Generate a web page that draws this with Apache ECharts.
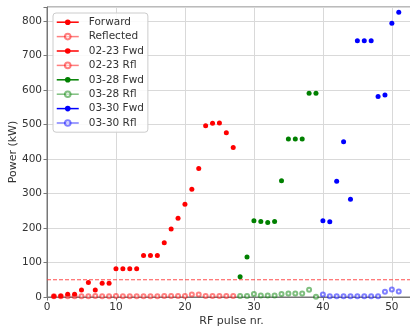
<!DOCTYPE html>
<html>
<head>
<meta charset="utf-8">
<script src="https://cdn.jsdelivr.net/npm/echarts@6/dist/echarts.min.js"></script>
<style>
html,body{margin:0;padding:0;background:#fff;}
#chart{width:410px;height:326px;}
</style>
</head>
<body>
<div id="chart"></div>
<script>
// ---- data ----
const pulses0223 = [1,2,3,4,5,6,7,8,9,10,11,12,13,14,15,16,17,18,19,20,21,22,23,24,25,26,27];
const fwd0223 = [2,3,8,8,20,42,20,40,40,82,82,82,82,120,120,120,157,197,228,269,312,372,496,503,504,476,433];
const rfl0223 = [2,2,2,2,2,2,3,2,2,3,2,2,2,2,2,2,3,3,3,3,7,7,3,3,3,3,3];

const pulses0328 = [28,29,30,31,32,33,34,35,36,37,38,39];
const fwd0328 = [59,116,221,219,216,219,337,458,458,458,590,590];
const rfl0328 = [3,3,9,4,4,4,9,10,10,10,21,1];

const pulses0330 = [40,41,42,43,44,45,46,47,48,49,50,51];
const fwd0330 = [221,218,335,450,283,742,742,742,581,585,793,825];
const rfl0330 = [7,2,2,2,2,2,2,2,2,15,22,16];

const thresholdKW = 50;
const xRange = [0, 53.5];
const yRange = [0, 840];
const xTicks = [0,10,20,30,40,50];
const yTicks = [0,100,200,300,400,500,600,700,800];

function pairs(xs, ys){ return xs.map((x,i)=>[x, ys[i]]); }

const chart = echarts.init(document.getElementById('chart'), null, {renderer:'canvas'});
const FONT = 'DejaVu Sans';

function fwdSeries(name, color, data){
  return {
    name, type:'line', data, symbol:'circle', symbolSize:5,
    itemStyle:{color}, lineStyle:{color, opacity:0, width:1.5},
    silent:true, animation:false, z:3
  };
}
function rflSeries(name, color, data){
  return {
    name, type:'line', data, symbol:'emptyCircle', symbolSize:4,
    itemStyle:{color, borderColor:color, borderWidth:1, opacity:0.5},
    lineStyle:{color, opacity:0, width:1.5},
    silent:true, animation:false, z:2
  };
}

const series = [
  fwdSeries('Forward', '#ff0000', []),
  rflSeries('Reflected', '#ff0000', []),
  fwdSeries('02-23 Fwd', '#ff0000', pairs(pulses0223, fwd0223)),
  rflSeries('02-23 Rfl', '#ff0000', pairs(pulses0223, rfl0223)),
  fwdSeries('03-28 Fwd', '#008000', pairs(pulses0328, fwd0328)),
  rflSeries('03-28 Rfl', '#008000', pairs(pulses0328, rfl0328)),
  fwdSeries('03-30 Fwd', '#0000ff', pairs(pulses0330, fwd0330)),
  rflSeries('03-30 Rfl', '#0000ff', pairs(pulses0330, rfl0330)),
];
const legendData = series.map((s,i)=>({
  name:s.name,
  lineStyle:{opacity: (i%2===1)?0.5:1, width:1.5}
}));

// threshold reference line across the whole x range (not in legend)
series.push({
  name:'threshold', type:'line', silent:true, animation:false,
  data: xRange.map(x=>[x, thresholdKW]),
  symbol:'none', showSymbol:false,
  itemStyle:{color:'#ff3c3c'},
  lineStyle:{color:'#ff3c3c', type:[4,2], width:1.2, opacity:0.9},
  z:1
});

chart.setOption({
  animation:false,
  backgroundColor:'#ffffff',
  grid:{left:47, right:-6, top:7, bottom:29, outerBoundsMode:'none', containLabel:false,
        show:true, borderColor:'#777', borderWidth:1, backgroundColor:'transparent'},
  xAxis:{
    type:'value', min:xRange[0], max:xRange[1], interval:10,
    name:'RF pulse nr.', nameLocation:'middle', nameGap:19, nameMoveOverlap:false,
    nameTextStyle:{fontFamily:FONT, fontSize:11, color:'#333'},
    axisLine:{show:true, onZero:false, lineStyle:{color:'#777'}},
    axisTick:{show:true, length:3.5, lineStyle:{color:'#777'}},
    axisLabel:{fontFamily:FONT, fontSize:10.5, color:'#333', margin:5, hideOverlap:false,
      formatter:v=> xTicks.includes(v)? String(v): ''},
    splitLine:{show:true, lineStyle:{color:'#d9d9d9', width:1}}
  },
  yAxis:{
    type:'value', min:yRange[0], max:yRange[1], interval:100,
    name:'Power (kW)', nameLocation:'middle', nameGap:28, nameMoveOverlap:false,
    nameTextStyle:{fontFamily:FONT, fontSize:11, color:'#333'},
    axisLine:{show:true, lineStyle:{color:'#777'}},
    axisTick:{show:true, length:3.5, lineStyle:{color:'#777'}},
    axisLabel:{fontFamily:FONT, fontSize:10.5, color:'#333', margin:5,
      formatter:v=> yTicks.includes(v)? String(v): ''},
    splitLine:{show:true, lineStyle:{color:'#d9d9d9', width:1}}
  },
  legend:{
    show:true, orient:'vertical', left:53, top:13,
    data:legendData,
    itemWidth:22, itemHeight:7, itemGap:2,
    padding:[3,4,3,3],
    backgroundColor:'rgba(255,255,255,0.85)',
    borderColor:'#cccccc', borderWidth:1, borderRadius:3,
    textStyle:{fontFamily:FONT, fontSize:10.5, color:'#333', padding:[0,0,0,5], lineHeight:12.4},
    selectedMode:false
  },
  series
});
</script>
</body>
</html>
